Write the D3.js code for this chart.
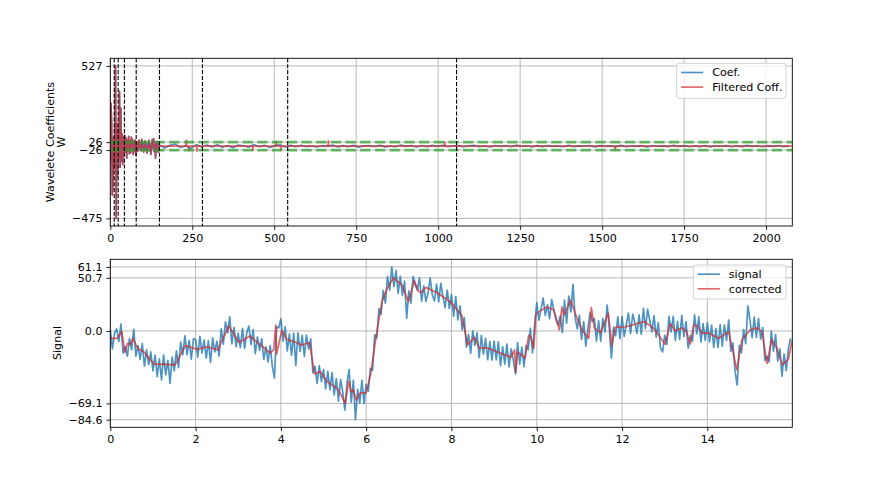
<!DOCTYPE html>
<html><head><meta charset="utf-8">
<script src="https://cdn.jsdelivr.net/npm/d3@7"></script>
<style>body{margin:0;background:#fff} text{font-family:"DejaVu Sans",sans-serif;fill:#000}</style>
</head><body><svg id="c" width="880" height="480"></svg>
<script>
// ---------------- DATA ----------------
// Top panel: wavelet coefficients
const coefLength = 2080;
const headStep = 2;            // head coefficients sampled at indices 0,2,...,148
const coefHead = [-100,282,150,-321,-250,60,-150, 200,527,-475,150,-200,100,
  -80,360,-140,250,-100,80,-120,60,-60,
  70,-40,55,-80,40,-30,65,-50,35,-45,60,-20,45,-55,30,-35,40,-60,
  25,30,-35,10,40,-20,5,-30,45,-10,20,-40,8,35,-25,12,-45,20,-8,38,-30,15,-55,25,42,-18,50,-35,10,-80,30,-15,28,-40,12];
const filtHead = [-100,282,150,-321,-250,60,-150, 200,527,-475,150,-200,100,
  -80,360,-140,250,-100,80,-120,60,-60,
  70,-40,55,-80,40,-30,65,-50,35,-45,60,0,45,-55,30,-35,40,-60,
  0,30,-35,0,40,0,0,-30,45,0,0,-40,0,35,0,0,-45,0,0,38,-30,0,-55,0,42,0,50,-35,0,-80,30,0,28,-40,0];
const tailStart = 150, tailStep = 16;   // tail coefficients sampled every 16 indices
const coefTail = [8,-12,5,14,-9,3,-15,10,-6,
  7,-5,9,-8,4,-10,6,2,-7,11,-4,5,-9,3,8,-6,
  5,-4,6,-3,2,-6,4,-2,7,-5,3,-4,5,-7,2,4,-3,6,-5,1,-4,7,-2,3,-6,4,-3,5,-2,6,-4,2,
  3,-4,2,5,-3,1,-5,4,-2,3,-4,6,-1,2,-5,3,-3,4,-2,1,-4,5,-3,2,-1,4,-5,3,-2,2,
  -3,5,-4,1,-2,3,-5,4,-1,2,-3,6,-2,3,-4,1,-3,4,-5,2,-1,3,-4,2,-3,5,-2,1,-4,3,-2,4,-3,2];
const spikeIdx = [232,240,264,435,506,521,665,1020,1540];
const spikeVal = [38,-30,-33,-28,31,-27,35,27,-27];
const threshold = [26,-26];
const levelBounds = [12,24,43,79,150,281,541,1056];
const topXTicks = [0,250,500,750,1000,1250,1500,1750,2000];
const topYTicks = [-475,-26,26,527];
const topYTickLabels = ["\u2212475","\u221226","26","527"];

// Bottom panel: signal and corrected signal
const signalStep = 0.05;
const tMax = 15.992;
const signal = [
 1,-17,-2,2,-10,6.5,-21,-15,-24,-7,-18,1.5,-24,-14,-27,-12,-33.6,-18,-32,-20,
 -38,-23,-43.5,-26.6,-46.7,-22.8,-41.9,-28,-50,-25,-38,-19,-35,-10.5,-22.7,-4.7,-22.5,-9,-27,-7.5,
 -8,-25,-5,-21,-8.6,-26,-9.4,-30,-6.6,-20,-9.8,-24,2,-12.6,8.8,-1.8,13.5,-12.3,3.4,-15,
 -2.3,-15.9,2.2,-16.6,-1.5,4.7,-12.7,1.3,-21.7,-5.7,-18.6,-7.3,-27.2,-15,-29.6,-14,-34,-45,4,3,
 11.5,-9.7,4,-19,-2.8,-23.4,-2,-33,-1.7,-19.6,-4.2,-24.3,-3.9,-17.2,-7.5,-40,-33.8,-50,-33,-48.4,
 -36.7,-55.3,-38.6,-56.1,-39.6,-61,-45.5,-67,-46.3,-58,-75.5,-50,-36.7,-68,-47,-84.6,-55.7,-68.8,-47,-69,
 -51,-57.4,-35.7,-37.6,-3.7,-6.6,21.4,15.9,38.5,26.6,52.2,38.9,61.1,42.4,57.6,35.9,52.2,34,47.6,12.3,
 38.4,26.7,51.9,44,38.9,50.6,28.4,43,28.3,36,50.6,34.6,28.6,44.7,27.7,45.5,33,22.2,38.9,21.6,
 34.6,14.2,32.8,10.5,24,1,12.9,-15.5,-3.4,-21.1,0.2,-13.8,-1.7,-25.5,-4.4,-22.2,-7.1,-27.3,-10.1,-27.9,
 -9.7,-27.5,-10.4,-33.2,-15,-31.7,-12.5,-34.2,-17,-27.6,-41,-11,-31.7,-15.3,-34,-13.6,-17.8,2.6,-20.9,6,
 27,10.3,21,31.5,14.8,25,11.8,29.9,20,10.9,5.7,14.4,-1.7,29.4,7.5,33.3,18.2,44.5,12.7,2.1,
 14.9,-8.1,8.9,-14.5,2.1,17.7,9,12,-9.6,9.8,-9.8,12,-1.2,24.6,3,-26,3.7,-4.5,13.6,-7.3,
 13.8,-5.1,6,17,-2.4,16.2,8,-2.2,15.4,-3,21.6,2.2,20.8,10,-0.9,14.6,-5.8,8.1,-16,-20,
 -4.2,-12.6,14,-0.8,13.9,-9,9,-8,15,-5.5,8.9,-16.4,-4.4,-9.7,15.5,-2.9,13.5,-10.7,7,-9,
 8,-10.4,5.5,-15.6,2.3,-15.8,6.1,-14.6,5.7,-8.9,10.4,-19.3,-11.6,-38.8,-51.6,-13.8,-20.8,1.4,-12.2,24,
 10,-6.4,13.3,-6.1,11.8,-7.7,3.2,-28.4,-24,-29.5,0,-19.2,-3.5,-28.8,-17,-43.2,-22,-37.8,-17,-7];
const corrT = [0,0.16,0.27,0.34,0.40,0.47,0.53,0.65,0.78,1.02,1.52,1.76,2.03,2.27,2.52,2.78,3.02,3.27,3.75,3.83,3.88,3.90,4.02,
 4.14,4.30,4.49,4.67,4.79,4.92,5.08,5.35,5.51,5.59,5.65,5.70,5.77,5.86,6.00,6.11,6.25,6.37,6.49,6.64,6.84,6.99,
 7.13,7.23,7.30,7.40,7.66,7.97,8.24,8.38,8.54,8.65,8.83,9.14,9.40,9.48,9.51,9.55,9.73,9.81,9.86,9.93,9.98,
 10.00,10.24,10.40,10.53,10.59,10.64,10.79,10.96,11.06,11.22,11.28,11.35,11.49,11.68,11.76,11.84,12.10,12.52,12.74,
 13.01,13.13,13.25,13.40,13.51,13.60,13.68,13.76,13.87,14.03,14.26,14.50,14.69,14.81,15.00,15.16,15.28,15.40,15.51,
 15.63,15.76,15.90,15.99];
const corrV = [-7,-7,-0.6,-20.6,-11.8,-13,-7,-17,-19.7,-31.4,-32.4,-14,-17.5,-15,-18,4.8,-11,-4.8,-21,-18,5.7,-22,0.3,
 -8,-10,-13.3,-11,-41,-38.7,-48,-56,-69.1,-48,-58,-56,-66,-59,-59,-40,-0.6,28,40.6,50.7,43.8,28,
 48,37.5,37,41.6,36.5,28,15,-13.3,-6,-16.5,-16,-21,-25,-18,-39.7,-20,-26,-4,-5.8,-16.5,15,
 17,23,20,1,23,15,29.5,10.5,1,-7,22.5,3,-1.6,17,-14,3.5,4,9,2.5,
 -12.7,7,0,3,-0.5,-12.4,5.7,5,-2,-2,-7,-0.6,-37,-8.6,1,3,-0.6,-31,-8,
 -16.5,-32.4,-27,-9];
const botXTicks = [0,2,4,6,8,10,12,14];
const botYTicks = [-84.6,-69.1,0,50.7,61.1];
const botYTickLabels = ["\u221284.6","\u221269.1","0.0","50.7","61.1"];

// ---------------- DRAWING ----------------
const svg = d3.select("#c");
const FS = 11.1, TICK = 3.9, LW = 1.67;
const BLUE = "#1f77b4", RED = "#d62728", GREEN = "#2ca02c";
const AXL = 110.3, AXR = 792.3;

function padExtent(vals){
  const [a,b] = d3.extent(vals); const p = 0.05*(b-a); return [a-p, b+p];
}

function makePanel(y0, y1, xDomain, yDomain, xTicks, yTicks, yLabels, id){
  const x = d3.scaleLinear().domain(xDomain).range([AXL,AXR]);
  const y = d3.scaleLinear().domain(yDomain).range([y1, y0]);
  const g = svg.append("g");
  svg.append("clipPath").attr("id",id).append("rect")
    .attr("x",AXL).attr("y",y0).attr("width",AXR-AXL).attr("height",y1-y0);
  const grid = g.append("g");
  xTicks.forEach(t=>grid.append("line").attr("x1",x(t)).attr("x2",x(t)).attr("y1",y0).attr("y2",y1)
    .attr("stroke","#b0b0b0").attr("stroke-width",0.89));
  yTicks.forEach(t=>grid.append("line").attr("x1",AXL).attr("x2",AXR).attr("y1",y(t)).attr("y2",y(t))
    .attr("stroke","#b0b0b0").attr("stroke-width",0.89));
  const plot = g.append("g").attr("clip-path",`url(#${id})`);
  const ax = g.append("g").attr("transform",`translate(0,${y1})`)
    .call(d3.axisBottom(x).tickValues(xTicks).tickSize(TICK).tickSizeOuter(0).tickPadding(3.9).tickFormat(d=>String(d)));
  const ay = g.append("g").attr("transform",`translate(${AXL},0)`)
    .call(d3.axisLeft(y).tickValues(yTicks).tickSize(TICK).tickSizeOuter(0).tickPadding(3.9).tickFormat((d,i)=>yLabels[i]));
  [ax,ay].forEach(a=>{
    a.select(".domain").remove();
    a.selectAll("line").attr("stroke","#000").attr("stroke-width",0.89);
    a.selectAll("text").attr("font-size",FS).attr("font-family","DejaVu Sans").attr("fill","#000");
  });
  const frame = g.append("rect").attr("x",AXL).attr("y",y0).attr("width",AXR-AXL).attr("height",y1-y0)
    .attr("fill","none").attr("stroke","#000").attr("stroke-width",0.89);
  return {x,y,plot,g,frame};
}

function legend(x0,y0,w,h,items){
  const g = svg.append("g");
  g.append("rect").attr("x",x0).attr("y",y0).attr("width",w).attr("height",h).attr("rx",2.5)
    .attr("fill","#fff").attr("fill-opacity",0.8).attr("stroke","#cccccc").attr("stroke-width",0.89);
  items.forEach((it,i)=>{
    const yy = y0 + 9.2 + i*14.6;
    g.append("line").attr("x1",x0+4.4).attr("x2",x0+26.6).attr("y1",yy).attr("y2",yy)
      .attr("stroke",it.color).attr("stroke-opacity",it.op).attr("stroke-width",LW);
    g.append("text").attr("x",x0+35.5).attr("y",yy).attr("dy","0.35em").attr("font-size",FS).text(it.label);
  });
}

// ----- top panel -----
const coefPts = coefHead.map((v,i)=>[i*headStep, v])
  .concat(coefTail.map((v,k)=>[tailStart + k*tailStep, v]));
const filtPts = filtHead.map((v,i)=>[i*headStep, v]);
filtPts.push([tailStart,0]);
spikeIdx.forEach((ix,i)=>{ filtPts.push([ix-1,0],[ix,spikeVal[i]],[ix+1,0]); });
filtPts.push([coefLength,0]);

const topP = makePanel(58.3, 226, [0,coefLength], padExtent(coefHead.concat(coefTail)),
  topXTicks, topYTicks, topYTickLabels, "clipTop");
const lineT = d3.line().x(d=>topP.x(d[0])).y(d=>topP.y(d[1]));
topP.plot.append("path").datum(coefPts).attr("d",lineT).attr("fill","none")
  .attr("stroke",BLUE).attr("stroke-opacity",0.8).attr("stroke-width",LW).attr("stroke-linejoin","round");
topP.plot.append("path").datum(filtPts).attr("d",lineT).attr("fill","none")
  .attr("stroke",RED).attr("stroke-opacity",0.7).attr("stroke-width",LW).attr("stroke-linejoin","round");
threshold.forEach(v=>topP.plot.append("line").attr("x1",topP.x(0)).attr("x2",topP.x(coefLength))
  .attr("y1",topP.y(v)).attr("y2",topP.y(v)).attr("stroke",GREEN).attr("stroke-opacity",0.7)
  .attr("stroke-width",2.8).attr("stroke-dasharray","10.3,4.4"));
levelBounds.forEach(b=>topP.plot.append("line").attr("x1",topP.x(b)).attr("x2",topP.x(b))
  .attr("y1",58.3).attr("y2",226).attr("stroke","#000").attr("stroke-width",1.11)
  .attr("stroke-dasharray","4.1,1.8"));
topP.g.node().appendChild(topP.frame.node());

svg.append("text").attr("transform","translate(50,142) rotate(-90)").attr("text-anchor","middle")
  .attr("dy","0.35em").attr("font-size",FS).text("Wavelete Coefficients");
svg.append("text").attr("transform","translate(60.8,142) rotate(-90)").attr("text-anchor","middle")
  .attr("dy","0.35em").attr("font-size",FS).text("W");
legend(676.7,63.3,109.3,35,[{label:"Coef.",color:BLUE,op:0.8},{label:"Filtered Coff.",color:RED,op:0.7}]);

// ----- bottom panel -----
const sigPts = signal.map((v,i)=>[i*signalStep, v]);
const corrPts = corrT.map((t,i)=>[t, corrV[i]]);
const botP = makePanel(259.3, 427.3, [0,tMax], padExtent(signal.concat(corrV)),
  botXTicks, botYTicks, botYTickLabels, "clipBot");
const lineB = d3.line().x(d=>botP.x(d[0])).y(d=>botP.y(d[1]));
botP.plot.append("path").datum(sigPts).attr("d",lineB).attr("fill","none")
  .attr("stroke",BLUE).attr("stroke-opacity",0.8).attr("stroke-width",LW).attr("stroke-linejoin","round");
botP.plot.append("path").datum(corrPts).attr("d",lineB).attr("fill","none")
  .attr("stroke",RED).attr("stroke-opacity",0.7).attr("stroke-width",LW).attr("stroke-linejoin","round");
botP.g.node().appendChild(botP.frame.node());

svg.append("text").attr("transform","translate(57.5,343) rotate(-90)").attr("text-anchor","middle")
  .attr("dy","0.35em").attr("font-size",FS).text("Signal");
legend(693.3,265,92.7,34,[{label:"signal",color:BLUE,op:0.8},{label:"corrected",color:RED,op:0.7}]);
</script>
</body></html>
